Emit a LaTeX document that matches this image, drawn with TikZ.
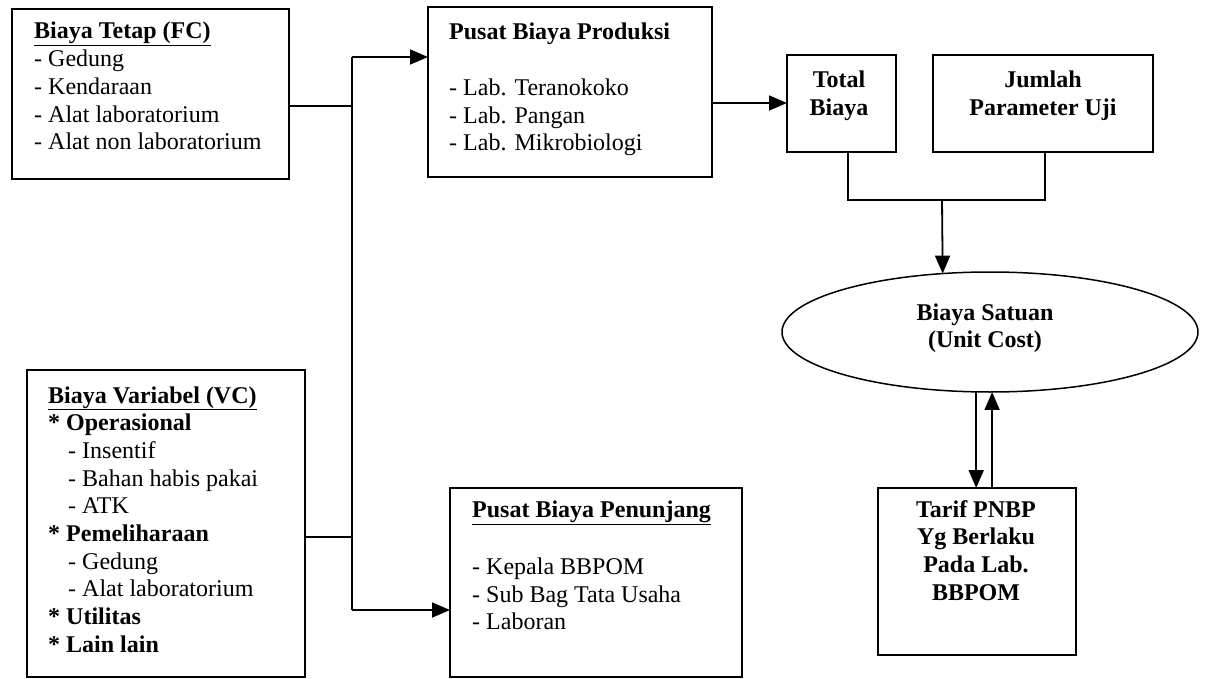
\documentclass[tikz,border=0pt]{standalone}
\usepackage{fontspec}
\setmainfont{Liberation Serif}
\usetikzlibrary{arrows.meta,shapes.geometric}
\tikzset{
  box/.style={draw, line width=1.8pt, inner sep=0pt, outer sep=0pt},
  txt/.style={inner sep=0pt, anchor=base west, font=\fontsize{24}{27.7}\selectfont},
  ctxt/.style={inner sep=0pt, anchor=base, font=\fontsize{24}{27.7}\selectfont},
  conn/.style={line width=1.8pt},
  arr/.style={conn, -{Triangle[length=18pt,width=15pt]}},
}
\begin{document}
\begin{tikzpicture}[x=1pt, y=-1pt]
\fill[white] (0,0) rectangle (1207,679);
\useasboundingbox (0,0) rectangle (1207,679);

% boxes
\node[box, minimum width=277pt, minimum height=170pt] (fc) at (150.5,94) {};
\node[box, minimum width=278pt, minimum height=307pt] (vc) at (166,523.5) {};
\node[box, minimum width=284pt, minimum height=170pt] (prod) at (570,92) {};
\node[box, minimum width=292pt, minimum height=189pt] (pen) at (596,582.5) {};
\node[box, minimum width=109pt, minimum height=97pt] (total) at (841.5,103.5) {};
\node[box, minimum width=220pt, minimum height=97pt] (jumlah) at (1043,103.5) {};
\node[draw, ellipse, line width=1.5pt, inner sep=0pt, outer sep=0pt, minimum width=416pt, minimum height=120pt] (sat) at (990,332) {};
\node[box, minimum width=198pt, minimum height=167pt] (tarif) at (977,571.5) {};

% texts
\node[txt] (fctxt) at (34,39) {\begin{tabular}[t]{@{}l@{}}
\textbf{\underline{Biaya Tetap (FC)}}\\
- Gedung\\
- Kendaraan\\
- Alat laboratorium\\
- Alat non laboratorium
\end{tabular}};

\node[txt] (vctxt) at (48,403) {\begin{tabular}[t]{@{}l@{}}
\textbf{\underline{Biaya Variabel (VC)}}\\
\textbf{* Operasional}\\
\hspace{20pt}- Insentif\\
\hspace{20pt}- Bahan habis pakai\\
\hspace{20pt}- ATK\\
\textbf{* Pemeliharaan}\\
\hspace{20pt}- Gedung\\
\hspace{20pt}- Alat laboratorium\\
\textbf{* Utilitas}\\
\textbf{* Lain lain}
\end{tabular}};

\node[txt] (prodtxt) at (449,40) {\begin{tabular}[t]{@{}l@{}}
\textbf{Pusat Biaya Produksi}\\
\\
- Lab. Teranokoko\\
- Lab. Pangan\\
- Lab. Mikrobiologi
\end{tabular}};

\node[txt] (pentxt) at (472,517) {\begin{tabular}[t]{@{}l@{}}
\textbf{\underline{Pusat Biaya Penunjang}}\\[2pt]
\\
- Kepala BBPOM\\
- Sub Bag Tata Usaha\\
- Laboran
\end{tabular}};

\node[ctxt] (totaltxt) at (839,88) {\begin{tabular}[t]{@{}c@{}}
\textbf{Total}\\
\textbf{Biaya}
\end{tabular}};

\node[ctxt] (jumlahtxt) at (1043,88) {\begin{tabular}[t]{@{}c@{}}
\textbf{Jumlah}\\
\textbf{Parameter Uji}
\end{tabular}};

\node[ctxt] (sattxt) at (985,320) {\begin{tabular}[t]{@{}c@{}}
\textbf{Biaya Satuan}\\
\textbf{(Unit Cost)}
\end{tabular}};

\node[ctxt] (tariftxt) at (976,517) {\begin{tabular}[t]{@{}c@{}}
\textbf{Tarif PNBP}\\
\textbf{Yg Berlaku}\\
\textbf{Pada Lab.}\\
\textbf{BBPOM}
\end{tabular}};

% connectors
\coordinate (jt) at (352,57);
\coordinate (jb) at (352,610);
\coordinate (jfc) at (352,106);
\coordinate (jvc) at (352,537);
\draw[conn] (fc.east |- jfc) -- (jfc);
\draw[conn] (vc.east |- jvc) -- (jvc);
\draw[conn] (jt) -- (jb);
\draw[arr] (jt) -- (prod.west |- jt);
\draw[arr] (jb) -- (pen.west |- jb);

\coordinate (pa) at (712,103);
\draw[arr] (pa) -- (pa -| total.west);

\coordinate (tb) at (848,200);
\coordinate (jmb) at (1045,200);
\coordinate (mid) at (942,200);
\draw[conn] (tb |- total.south) -- (tb) -- (jmb) -- (jmb |- jumlah.south);
\draw[arr] (mid) -- (sat.129.4);

\draw[arr] (sat.-103.2) -- (sat.-103.2 |- tarif.north);
\draw[arr] (tarif.north -| sat.-88.1) -- (sat.-88.1);
\end{tikzpicture}
\end{document}
